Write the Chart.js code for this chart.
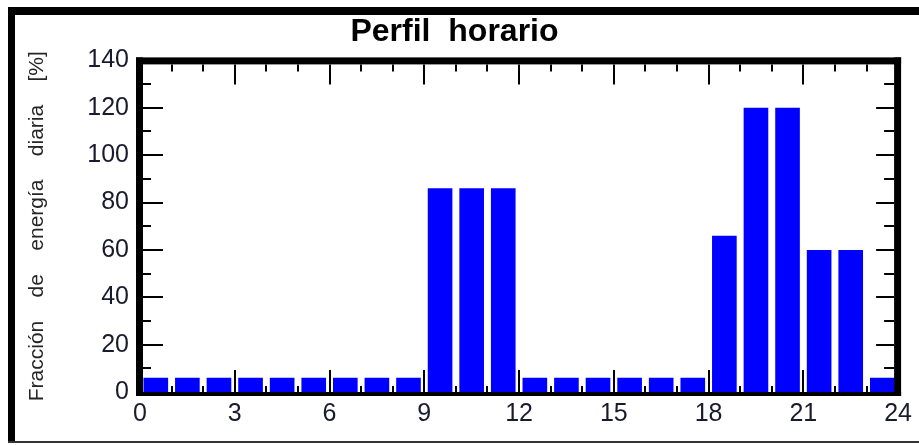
<!DOCTYPE html>
<html>
<head>
<meta charset="utf-8">
<script src="https://cdn.jsdelivr.net/npm/chart.js@4/dist/chart.umd.min.js"></script>
<style>
  body { margin: 0; background: #fff; }
  canvas { display: block; }
</style>
</head>
<body>
<canvas id="perfil" width="919" height="445"></canvas>
<script>
// hourly profile, % of daily energy
const hours = [0, 1, 2, 3, 4, 5, 6, 7, 8, 9, 10, 11, 12, 13, 14, 15, 16, 17, 18, 19, 20, 21, 22, 23];
const fraction = [6, 6, 6, 6, 6, 6, 6, 6, 6, 86, 86, 86, 6, 6, 6, 6, 6, 6, 66, 120, 120, 60, 60, 6];
const xTicks = [0, 3, 6, 9, 12, 15, 18, 21, 24];
const yTicks = [0, 20, 40, 60, 80, 100, 120, 140];

const tickFont = { family: 'Arial, "Liberation Sans", sans-serif', size: 25 };
const tickColor = '#1a1a2e';

// black frame, inward ticks on all four sides, outer border
const framePlugin = {
    id: 'frame',
    beforeDraw(chart) {
        const ctx = chart.ctx;
        ctx.save();
        ctx.fillStyle = '#000';
        ctx.fillRect(8, 7, 7, 436);
        ctx.fillRect(8, 7, 911, 8);
        ctx.fillStyle = '#333';
        ctx.fillRect(8, 441, 911, 2);
        ctx.restore();
    },
    afterDatasetsDraw(chart) {
        const { ctx, chartArea: a, scales: { x, y } } = chart;
        ctx.save();
        ctx.strokeStyle = '#000';
        ctx.lineWidth = 2;
        const line = (x1, y1, x2, y2) => {
            ctx.beginPath();
            ctx.moveTo(x1, y1);
            ctx.lineTo(x2, y2);
            ctx.stroke();
        };
        for (let h = 1; h < 24; h++) {
            const px = Math.round(x.getPixelForValue(h));
            const major = xTicks.includes(h);
            line(px, a.top + 4, px, a.top + 4 + (major ? 20 : 7));
            line(px, a.bottom, px, a.bottom - (major ? 22 : 6));
        }
        for (let v = 10; v < 140; v += 10) {
            const py = Math.round(y.getPixelForValue(v));
            const major = yTicks.includes(v);
            line(a.left + 3, py, a.left + 3 + (major ? 20 : 8), py);
            line(a.right - 4, py, a.right - 4 - (major ? 18 : 10), py);
        }
        ctx.fillStyle = '#000';
        ctx.fillRect(a.left - 4, a.top - 3, 7, a.bottom - a.top + 7);
        ctx.fillRect(a.left - 4, a.top - 3, a.right - a.left + 7, 7);
        ctx.fillRect(a.right - 4, a.top - 3, 7, a.bottom - a.top + 7);
        ctx.fillRect(a.left - 4, a.bottom, a.right - a.left + 7, 4);
        ctx.restore();
    }
};

new Chart(document.getElementById('perfil'), {
    type: 'bar',
    data: {
        datasets: [{
            data: hours.map((h, i) => ({ x: h + 0.5, y: fraction[i] })),
            backgroundColor: '#0000ff',
            borderWidth: 0,
            categoryPercentage: 1,
            barPercentage: 0.78
        }]
    },
    options: {
        responsive: false,
        animation: false,
        layout: { padding: { left: 9, right: 19, top: 0, bottom: 0 } },
        plugins: {
            legend: { display: false },
            tooltip: { enabled: false },
            title: {
                display: true,
                text: 'Perfil  horario',
                color: '#000',
                font: { family: 'Arial, "Liberation Sans", sans-serif', size: 32, weight: 'bold' },
                padding: { top: 13, bottom: 9 }
            }
        },
        scales: {
            x: {
                type: 'linear',
                offset: false,
                min: 0,
                max: 24,
                afterBuildTicks: (scale) => { scale.ticks = xTicks.map(v => ({ value: v })); },
                afterFit: (scale) => { scale.height = 53; },
                grid: { display: false, drawTicks: false },
                border: { display: false },
                ticks: { color: tickColor, font: tickFont, padding: 7, maxRotation: 0, autoSkip: false }
            },
            y: {
                min: 0,
                max: 140,
                afterBuildTicks: (scale) => { scale.ticks = yTicks.map(v => ({ value: v })); },
                afterFit: (scale) => { scale.width = 131; },
                grid: { display: false, drawTicks: false },
                border: { display: false },
                ticks: { color: tickColor, font: tickFont, padding: 11 },
                title: {
                    display: true,
                    text: 'Fracción    de    energía    diaria    [%]',
                    color: '#262626',
                    font: { family: 'Arial, "Liberation Sans", sans-serif', size: 21 },
                    padding: { top: 16, bottom: 0 }
                }
            }
        }
    },
    plugins: [framePlugin]
});
</script>
</body>
</html>
